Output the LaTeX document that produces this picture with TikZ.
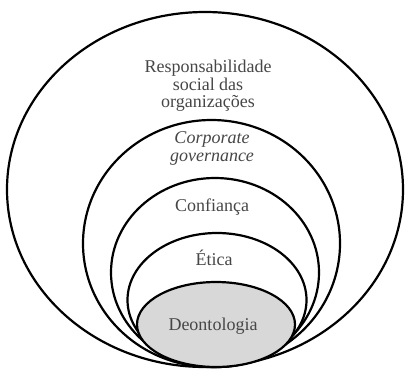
\documentclass[tikz,border=0pt]{standalone}
\usepackage{fontspec}
\setmainfont{Liberation Serif}
\usetikzlibrary{calc}

\definecolor{txtgray}{RGB}{70,70,70}
\definecolor{deonfill}{RGB}{216,216,216}

\begin{document}
\begin{tikzpicture}[x=1pt,y=-1pt,
	ring/.style={draw=black, line width=2.2pt},
	lbl/.style={text=txtgray, font=\fontsize{18}{17.5}\selectfont, align=center, inner sep=0pt}]
	\useasboundingbox (0,0) rectangle (407,370);
	
	% outer ellipse: responsabilidade social
	\coordinate (R) at (205,189.5);
	\draw[ring] (R) ellipse (198 and 177.5);
	
	% corporate governance
	\coordinate (G) at (211.5,243.5);
	\draw[ring] (G) ellipse (128.5 and 123.5);
	
	% confianca
	\coordinate (C) at (215,272.5);
	\draw[ring] (C) ellipse (104 and 94.5);
	
	% etica
	\coordinate (E) at (217,300);
	\draw[ring] (E) ellipse (89.5 and 67);
	
	% deontologia, filled core
	\coordinate (D) at (216,324.5);
	\draw[ring, fill=deonfill] (D) ellipse (79 and 42.5);
	
	% labels
	\node[lbl] (resp) at (208,86) {Responsabilidade\\social das\\organizações};
	\node[lbl] (gov) at (212,148.5) {\itshape Corporate\\\itshape governance};
	\node[lbl] (conf) at (212,207) {Confiança};
	\node[lbl] (etica) at (214,258) {Ética};
	\node[lbl] (deon) at (213,326) {Deontologia};
\end{tikzpicture}
\end{document}
